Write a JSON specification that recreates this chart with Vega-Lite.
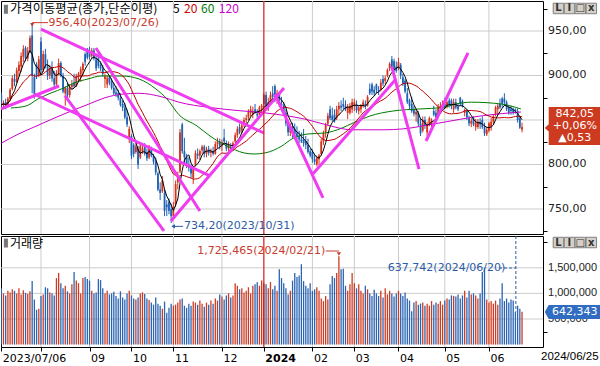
{
"$schema":"https://vega.github.io/schema/vega-lite/v6.json",
"padding":0,
"background":"#ffffff",
"spacing":2,
"bounds":"flush",
"config":{"view":{"stroke":"#000000","strokeWidth":1},"axis":{"domain":false,"labelFont":"DejaVu Sans","labelFontSize":11,"labelColor":"#222222","tickColor":"#000000"}},
"datasets":{
"ohlc":[
{"i":0,"o":878,"h":881,"l":864,"c":867,"v":1100000},{"i":1,"o":867,"h":872,"l":862,"c":869,"v":1000000},{"i":2,"o":870,"h":874,"l":862,"c":866,"v":960000},{"i":3,"o":866,"h":876,"l":864,"c":874,"v":1050000},{"i":4,"o":874,"h":886,"l":872,"c":884,"v":1020000},{"i":5,"o":885,"h":900,"l":883,"c":897,"v":1080000},{"i":6,"o":896,"h":902,"l":888,"c":893,"v":1050000},{"i":7,"o":893,"h":909,"l":891,"c":906,"v":1000000},{"i":8,"o":905,"h":916,"l":899,"c":912,"v":1100000},{"i":9,"o":910,"h":926,"l":904,"c":922,"v":980000},
{"i":10,"o":921,"h":934,"l":915,"c":930,"v":1060000},{"i":11,"o":931,"h":933,"l":916,"c":919,"v":1010000},{"i":12,"o":919,"h":932,"l":916,"c":928,"v":990000},{"i":13,"o":928,"h":945,"l":925,"c":942,"v":1040000},{"i":14,"o":945,"h":956.4,"l":880,"c":900,"v":1240000},{"i":15,"o":898,"h":902,"l":874,"c":879,"v":880000},{"i":16,"o":912,"h":915,"l":896,"c":899,"v":680000},{"i":17,"o":900,"h":922,"l":898,"c":918,"v":700000},{"i":18,"o":938,"h":943,"l":903,"c":906,"v":950000},{"i":19,"o":906,"h":928,"l":904,"c":924,"v":980000},
{"i":20,"o":924,"h":930,"l":908,"c":912,"v":1120000},{"i":21,"o":912,"h":918,"l":895,"c":900,"v":1100000},{"i":22,"o":900,"h":912,"l":896,"c":908,"v":1020000},{"i":23,"o":908,"h":916,"l":893,"c":897,"v":1000000},{"i":24,"o":897,"h":905,"l":885,"c":890,"v":960000},{"i":25,"o":890,"h":906,"l":888,"c":903,"v":1300000},{"i":26,"o":903,"h":919,"l":900,"c":914,"v":1400000},{"i":27,"o":914,"h":916,"l":898,"c":900,"v":1200000},{"i":28,"o":900,"h":903,"l":880,"c":882,"v":1100000},{"i":29,"o":880,"h":888,"l":866,"c":886,"v":1150000},
{"i":30,"o":886,"h":892,"l":874,"c":878,"v":1040000},{"i":31,"o":878,"h":890,"l":875,"c":887,"v":1000000},{"i":32,"o":887,"h":895,"l":884,"c":890,"v":1180000},{"i":33,"o":892,"h":902,"l":886,"c":888,"v":1420000},{"i":34,"o":888,"h":902,"l":887,"c":899,"v":1250000},{"i":35,"o":899,"h":904,"l":893,"c":902,"v":1200000},{"i":36,"o":901,"h":910,"l":893,"c":907,"v":1000000},{"i":37,"o":906,"h":915,"l":900,"c":913,"v":1300000},{"i":38,"o":924,"h":926,"l":911,"c":915,"v":1320000},{"i":39,"o":930,"h":931,"l":918,"c":920,"v":1280000},
{"i":40,"o":925,"h":932,"l":918,"c":921,"v":1250000},{"i":41,"o":922,"h":931,"l":919,"c":928,"v":1050000},{"i":42,"o":928,"h":931,"l":917,"c":919,"v":1000000},{"i":43,"o":918,"h":922,"l":905,"c":908,"v":1020000},{"i":44,"o":920,"h":922,"l":908,"c":911,"v":1280000},{"i":45,"o":912,"h":916,"l":905,"c":908,"v":1260000},{"i":46,"o":908,"h":912,"l":899,"c":902,"v":1100000},{"i":47,"o":896,"h":902,"l":886,"c":899,"v":1000000},{"i":48,"o":890,"h":900,"l":886,"c":897,"v":1050000},{"i":49,"o":898,"h":900,"l":889,"c":892,"v":980000},
{"i":50,"o":893,"h":897,"l":884,"c":886,"v":1000000},{"i":51,"o":886,"h":892,"l":878,"c":880,"v":1030000},{"i":52,"o":881,"h":888,"l":876,"c":879,"v":950000},{"i":53,"o":880,"h":884,"l":872,"c":875,"v":900000},{"i":54,"o":875,"h":880,"l":865,"c":867,"v":1040000},{"i":55,"o":868,"h":872,"l":860,"c":864,"v":920000},{"i":56,"o":864,"h":869,"l":851,"c":853,"v":880000},{"i":57,"o":853,"h":862,"l":842,"c":845,"v":1000000},{"i":58,"o":830,"h":843,"l":824,"c":840,"v":1050000},{"i":59,"o":832,"h":834,"l":806,"c":810,"v":960000},
{"i":60,"o":822,"h":824,"l":808,"c":812,"v":900000},{"i":61,"o":814,"h":825,"l":812,"c":820,"v":880000},{"i":62,"o":818,"h":821,"l":795,"c":800,"v":920000},{"i":63,"o":808,"h":825,"l":806,"c":821,"v":1000000},{"i":64,"o":815,"h":822,"l":812,"c":818,"v":1020000},{"i":65,"o":820,"h":824,"l":810,"c":812,"v":990000},{"i":66,"o":814,"h":818,"l":804,"c":807,"v":900000},{"i":67,"o":808,"h":822,"l":806,"c":818,"v":870000},{"i":68,"o":818,"h":820,"l":808,"c":810,"v":820000},{"i":69,"o":810,"h":812,"l":800,"c":803,"v":780000},
{"i":70,"o":803,"h":808,"l":788,"c":791,"v":920000},{"i":71,"o":790,"h":792,"l":770,"c":772,"v":800000},{"i":72,"o":772,"h":780,"l":760,"c":768,"v":760000},{"i":73,"o":770,"h":787,"l":768,"c":782,"v":700000},{"i":74,"o":768,"h":772,"l":742,"c":748,"v":840000},{"i":75,"o":755,"h":760,"l":742,"c":752,"v":620000},{"i":76,"o":758,"h":762,"l":744,"c":748,"v":720000},{"i":77,"o":750,"h":756,"l":734.2,"c":742,"v":800000},{"i":78,"o":742,"h":758,"l":740,"c":752,"v":760000},{"i":79,"o":755,"h":782,"l":752,"c":778,"v":780000},
{"i":80,"o":780,"h":792,"l":772,"c":786,"v":820000},{"i":81,"o":792,"h":840,"l":790,"c":836,"v":880000},{"i":82,"o":845,"h":847,"l":812,"c":815,"v":900000},{"i":83,"o":815,"h":830,"l":800,"c":808,"v":760000},{"i":84,"o":808,"h":812,"l":796,"c":799,"v":720000},{"i":85,"o":800,"h":808,"l":792,"c":796,"v":800000},{"i":86,"o":797,"h":800,"l":785,"c":790,"v":760000},{"i":87,"o":785,"h":798,"l":778,"c":795,"v":840000},{"i":88,"o":800,"h":816,"l":798,"c":813,"v":820000},{"i":89,"o":812,"h":818,"l":806,"c":810,"v":780000},
{"i":90,"o":810,"h":817,"l":805,"c":815,"v":860000},{"i":91,"o":816,"h":822,"l":812,"c":820,"v":800000},{"i":92,"o":820,"h":822,"l":808,"c":812,"v":740000},{"i":93,"o":812,"h":820,"l":808,"c":817,"v":820000},{"i":94,"o":817,"h":821,"l":810,"c":813,"v":780000},{"i":95,"o":813,"h":818,"l":808,"c":815,"v":860000},{"i":96,"o":815,"h":820,"l":810,"c":812,"v":800000},{"i":97,"o":812,"h":826,"l":811,"c":823,"v":900000},{"i":98,"o":823,"h":830,"l":818,"c":826,"v":860000},{"i":99,"o":826,"h":829,"l":817,"c":821,"v":980000},
{"i":100,"o":821,"h":828,"l":815,"c":825,"v":940000},{"i":101,"o":830,"h":840,"l":822,"c":826,"v":880000},{"i":102,"o":824,"h":827,"l":815,"c":818,"v":960000},{"i":103,"o":818,"h":826,"l":814,"c":822,"v":1000000},{"i":104,"o":820,"h":824,"l":813,"c":816,"v":920000},{"i":105,"o":817,"h":826,"l":815,"c":824,"v":960000},{"i":106,"o":826,"h":836,"l":824,"c":833,"v":1200000},{"i":107,"o":833,"h":843,"l":830,"c":840,"v":1150000},{"i":108,"o":842,"h":846,"l":834,"c":836,"v":1080000},{"i":109,"o":838,"h":848,"l":835,"c":844,"v":1100000},
{"i":110,"o":845,"h":853,"l":842,"c":850,"v":1020000},{"i":111,"o":850,"h":856,"l":845,"c":852,"v":1050000},{"i":112,"o":853,"h":862,"l":850,"c":859,"v":1120000},{"i":113,"o":858,"h":866,"l":854,"c":862,"v":1000000},{"i":114,"o":856,"h":865,"l":852,"c":860,"v":1150000},{"i":115,"o":862,"h":868,"l":857,"c":859,"v":1180000},{"i":116,"o":857,"h":862,"l":852,"c":855,"v":1220000},{"i":117,"o":856,"h":866,"l":854,"c":864,"v":1150000},{"i":118,"o":864,"h":868,"l":858,"c":866,"v":1250000},{"i":119,"o":868,"h":880,"l":862,"c":878,"v":1200000},
{"i":120,"o":878,"h":882,"l":862,"c":866,"v":1180000},{"i":121,"o":866,"h":875,"l":860,"c":870,"v":1100000},{"i":122,"o":870,"h":882,"l":868,"c":878,"v":1220000},{"i":123,"o":880,"h":888,"l":872,"c":876,"v":1080000},{"i":124,"o":888,"h":890,"l":870,"c":873,"v":1150000},{"i":125,"o":872,"h":884,"l":868,"c":880,"v":1050000},{"i":126,"o":880,"h":882,"l":865,"c":868,"v":1470000},{"i":127,"o":868,"h":876,"l":862,"c":866,"v":1300000},{"i":128,"o":866,"h":870,"l":855,"c":858,"v":1200000},{"i":129,"o":858,"h":862,"l":843,"c":846,"v":1100000},
{"i":130,"o":846,"h":850,"l":832,"c":836,"v":980000},{"i":131,"o":836,"h":846,"l":832,"c":842,"v":1050000},{"i":132,"o":843,"h":847,"l":830,"c":838,"v":1250000},{"i":133,"o":840,"h":846,"l":832,"c":834,"v":1400000},{"i":134,"o":835,"h":843,"l":828,"c":832,"v":1320000},{"i":135,"o":832,"h":838,"l":824,"c":828,"v":1350000},{"i":136,"o":828,"h":836,"l":824,"c":826,"v":1570000},{"i":137,"o":828,"h":840,"l":820,"c":824,"v":1240000},{"i":138,"o":826,"h":832,"l":817,"c":822,"v":1150000},{"i":139,"o":822,"h":829,"l":812,"c":814,"v":1100000},
{"i":140,"o":815,"h":818,"l":808,"c":810,"v":1200000},{"i":141,"o":814,"h":817,"l":802,"c":806,"v":1050000},{"i":142,"o":806,"h":812,"l":800,"c":803,"v":1080000},{"i":143,"o":800,"h":810,"l":798,"c":807,"v":1120000},{"i":144,"o":806,"h":812,"l":800,"c":810,"v":1050000},{"i":145,"o":812,"h":829,"l":810,"c":826,"v":900000},{"i":146,"o":826,"h":838,"l":822,"c":835,"v":850000},{"i":147,"o":836,"h":847,"l":830,"c":844,"v":950000},{"i":148,"o":846,"h":858,"l":843,"c":855,"v":880000},{"i":149,"o":862,"h":866,"l":850,"c":852,"v":1180000},
{"i":150,"o":855,"h":864,"l":848,"c":850,"v":1340000},{"i":151,"o":856,"h":862,"l":847,"c":849,"v":1300000},{"i":152,"o":852,"h":866,"l":850,"c":862,"v":1400000},{"i":153,"o":862,"h":870,"l":855,"c":866,"v":1725465},{"i":154,"o":866,"h":872,"l":860,"c":864,"v":1470000},{"i":155,"o":868,"h":875,"l":862,"c":865,"v":1480000},{"i":156,"o":866,"h":872,"l":860,"c":862,"v":1150000},{"i":157,"o":858,"h":868,"l":851,"c":865,"v":1050000},{"i":158,"o":858,"h":869,"l":856,"c":866,"v":1180000},{"i":159,"o":862,"h":874,"l":858,"c":870,"v":1400000},
{"i":160,"o":866,"h":874,"l":860,"c":870,"v":1200000},{"i":161,"o":868,"h":872,"l":858,"c":861,"v":1100000},{"i":162,"o":860,"h":866,"l":856,"c":864,"v":1180000},{"i":163,"o":862,"h":868,"l":858,"c":866,"v":1050000},{"i":164,"o":866,"h":873,"l":864,"c":870,"v":1000000},{"i":165,"o":868,"h":872,"l":862,"c":866,"v":1150000},{"i":166,"o":866,"h":878,"l":865,"c":876,"v":1080000},{"i":167,"o":885,"h":891,"l":878,"c":880,"v":1000000},{"i":168,"o":890,"h":892,"l":878,"c":882,"v":950000},{"i":169,"o":884,"h":888,"l":877,"c":880,"v":1070000},
{"i":170,"o":890,"h":891,"l":880,"c":884,"v":1000000},{"i":171,"o":884,"h":888,"l":878,"c":882,"v":950000},{"i":172,"o":884,"h":896,"l":882,"c":892,"v":1050000},{"i":173,"o":896,"h":900,"l":888,"c":891,"v":920000},{"i":174,"o":894,"h":900,"l":890,"c":897,"v":1100000},{"i":175,"o":900,"h":908,"l":898,"c":906,"v":980000},{"i":176,"o":908,"h":915,"l":905,"c":913,"v":1050000},{"i":177,"o":918,"h":922,"l":908,"c":910,"v":1000000},{"i":178,"o":916,"h":919,"l":904,"c":906,"v":940000},{"i":179,"o":910,"h":916,"l":903,"c":905,"v":1000000},
{"i":180,"o":908,"h":920,"l":906,"c":915,"v":1050000},{"i":181,"o":912,"h":914,"l":896,"c":900,"v":1000000},{"i":182,"o":898,"h":902,"l":888,"c":891,"v":950000},{"i":183,"o":894,"h":896,"l":880,"c":882,"v":1020000},{"i":184,"o":880,"h":886,"l":868,"c":870,"v":900000},{"i":185,"o":872,"h":874,"l":862,"c":866,"v":860000},{"i":186,"o":868,"h":876,"l":858,"c":860,"v":650000},{"i":187,"o":862,"h":866,"l":854,"c":857,"v":820000},{"i":188,"o":856,"h":862,"l":848,"c":859,"v":850000},{"i":189,"o":858,"h":860,"l":843,"c":846,"v":780000},
{"i":190,"o":846,"h":852,"l":832,"c":835,"v":800000},{"i":191,"o":838,"h":854,"l":836,"c":850,"v":820000},{"i":192,"o":850,"h":854,"l":840,"c":844,"v":760000},{"i":193,"o":836,"h":848,"l":832,"c":845,"v":800000},{"i":194,"o":845,"h":854,"l":843,"c":852,"v":760000},{"i":195,"o":844,"h":852,"l":842,"c":849,"v":850000},{"i":196,"o":860,"h":866,"l":854,"c":856,"v":780000},{"i":197,"o":858,"h":862,"l":850,"c":853,"v":820000},{"i":198,"o":854,"h":868,"l":852,"c":864,"v":800000},{"i":199,"o":864,"h":870,"l":860,"c":866,"v":850000},
{"i":200,"o":866,"h":872,"l":862,"c":868,"v":780000},{"i":201,"o":868,"h":875,"l":862,"c":865,"v":860000},{"i":202,"o":865,"h":872,"l":863,"c":870,"v":900000},{"i":203,"o":872,"h":875,"l":864,"c":867,"v":880000},{"i":204,"o":872,"h":874,"l":862,"c":866,"v":960000},{"i":205,"o":862,"h":874,"l":858,"c":870,"v":950000},{"i":206,"o":870,"h":874,"l":862,"c":864,"v":940000},{"i":207,"o":865,"h":868,"l":860,"c":862,"v":980000},{"i":208,"o":875,"h":876,"l":866,"c":868,"v":900000},{"i":209,"o":871,"h":873,"l":864,"c":866,"v":960000},
{"i":210,"o":858,"h":863,"l":854,"c":861,"v":1050000},{"i":211,"o":860,"h":862,"l":850,"c":853,"v":920000},{"i":212,"o":852,"h":855,"l":843,"c":846,"v":1050000},{"i":213,"o":846,"h":852,"l":842,"c":849,"v":980000},{"i":214,"o":852,"h":854,"l":843,"c":845,"v":1000000},{"i":215,"o":842,"h":851,"l":838,"c":847,"v":960000},{"i":216,"o":842,"h":851,"l":840,"c":848,"v":900000},{"i":217,"o":848,"h":852,"l":840,"c":845,"v":1000000},{"i":218,"o":850,"h":854,"l":840,"c":842,"v":1420000},{"i":219,"o":842,"h":847,"l":832,"c":835,"v":1500000},
{"i":220,"o":834,"h":842,"l":832,"c":839,"v":880000},{"i":221,"o":838,"h":848,"l":836,"c":846,"v":820000},{"i":222,"o":842,"h":852,"l":838,"c":848,"v":850000},{"i":223,"o":848,"h":856,"l":845,"c":854,"v":800000},{"i":224,"o":856,"h":866,"l":854,"c":864,"v":860000},{"i":225,"o":862,"h":868,"l":856,"c":866,"v":780000},{"i":226,"o":868,"h":874,"l":862,"c":864,"v":900000},{"i":227,"o":874,"h":876,"l":864,"c":868,"v":1200000},{"i":228,"o":874,"h":880,"l":866,"c":870,"v":850000},{"i":229,"o":870,"h":872,"l":860,"c":862,"v":900000},
{"i":230,"o":864,"h":866,"l":856,"c":858,"v":820000},{"i":231,"o":862,"h":866,"l":856,"c":860,"v":880000},{"i":232,"o":862,"h":864,"l":856,"c":858,"v":860000},{"i":233,"o":862,"h":863,"l":857,"c":860,"v":637742},{"i":234,"o":860,"h":863,"l":847,"c":850,"v":760000},{"i":235,"o":852,"h":854,"l":840,"c":841.52,"v":700000},{"i":236,"o":839,"h":847,"l":836,"c":842.05,"v":642343}
],
"ma":[
{"s":"60","i":4.4,"p":863.5},{"s":"60","i":11.2,"p":865.7},{"s":"60","i":16.6,"p":873.6},{"s":"60","i":22.5,"p":880.3},{"s":"60","i":28.4,"p":886},{"s":"60","i":33,"p":891.6},{"s":"60","i":39.3,"p":896.1},{"s":"60","i":45.2,"p":899.4},{"s":"60","i":54.7,"p":899.4},{"s":"60","i":62.4,"p":896.1},{"s":"60","i":70.1,"p":884.8},{"s":"60","i":75.1,"p":873.6},{"s":"60","i":80.5,"p":856},{"s":"60","i":88.7,"p":843.3},{"s":"60","i":94.6,"p":832},{"s":"60","i":102.3,"p":820.8},{"s":"60","i":110,"p":813},{"s":"60","i":114.5,"p":811.8},{"s":"60","i":119.5,"p":813},{"s":"60","i":127.2,"p":820.8},{"s":"60","i":131.7,"p":828.7},{"s":"60","i":139,"p":834.3},{"s":"60","i":146.7,"p":835.4},{"s":"60","i":154.4,"p":841},{"s":"60","i":159.4,"p":846.6},{"s":"60","i":167.1,"p":854.5},{"s":"60","i":177.5,"p":860.1},{"s":"60","i":189.7,"p":862.4},{"s":"60","i":200.1,"p":864},{"s":"60","i":206,"p":868},{"s":"60","i":213,"p":870},{"s":"60","i":226.4,"p":868},{"s":"60","i":235.5,"p":862.4},
{"s":"120","i":0,"p":824},{"s":"120","i":7.6,"p":834},{"s":"120","i":14.8,"p":842},{"s":"120","i":23.9,"p":852},{"s":"120","i":31.6,"p":860},{"s":"120","i":39.8,"p":868},{"s":"120","i":47,"p":875},{"s":"120","i":54.7,"p":879},{"s":"120","i":62.4,"p":880},{"s":"120","i":72.8,"p":876},{"s":"120","i":80.5,"p":870},{"s":"120","i":94.6,"p":864},{"s":"120","i":110,"p":860},{"s":"120","i":119.5,"p":858},{"s":"120","i":128.6,"p":855},{"s":"120","i":137.6,"p":851},{"s":"120","i":146.7,"p":845},{"s":"120","i":158.9,"p":839},{"s":"120","i":173.4,"p":839},{"s":"120","i":182,"p":840},{"s":"120","i":197,"p":846},{"s":"120","i":218.7,"p":855},{"s":"120","i":235.5,"p":859}
],
"trend":[
{"i1":18,"p1":952.2,"i2":119,"p2":835.4},{"i1":-0.12,"p1":862.4,"i2":26.2,"p2":888.2},{"i1":14.8,"p1":879.2,"i2":94.6,"p2":787.1},{"i1":28.9,"p1":877,"i2":73.7,"p2":725.3},{"i1":42.9,"p1":930.9,"i2":90,"p2":747.8},{"i1":76.9,"p1":736.5,"i2":128.1,"p2":886},{"i1":124,"p1":879.2,"i2":145.8,"p2":762.4},{"i1":141.2,"p1":789.3,"i2":178.9,"p2":896.1},{"i1":177,"p1":909.6,"i2":189.3,"p2":794.9},{"i1":192.5,"p1":826.4,"i2":211.5,"p2":925.3}
],
"months":[{"i":18},{"i":40},{"i":59},{"i":78},{"i":100},{"i":119},{"i":141},{"i":160},{"i":180},{"i":201},{"i":221}],
"plevels":[{"p":750,"t":"750,00"},{"p":800,"t":"800,00"},{"p":850,"t":"850,00"},{"p":900,"t":"900,00"},{"p":950,"t":"950,00"}],
"vlevels":[{"v":500000,"t":"500,000"},{"v":1000000,"t":"1,000,000"},{"v":1500000,"t":"1,500,000"}]
},
"vconcat":[
{
"width":542,"height":233,
"layer":[
{"data":{"name":"months"},"mark":{"type":"rule","strokeWidth":1,"color":"#cccccc"},
 "encoding":{"x":{"field":"i","type":"quantitative","scale":{"domain":[-0.122,245.5],"nice":false,"zero":false},"axis":{"values":[18,40,59,78,100,119,141,160,180,201,221],"labels":false,"ticks":false,"grid":false,"domain":false,"title":null}}}},
{"data":{"name":"plevels"},"mark":{"type":"rule","strokeWidth":1,"color":"#cccccc"},
 "encoding":{"y":{"field":"p","type":"quantitative","scale":{"domain":[721.9,983.7],"nice":false,"zero":false},"axis":{"orient":"right","values":[725,737.5,750,762.5,775,787.5,800,812.5,825,837.5,850,862.5,875,887.5,900,912.5,925,937.5,950,962.5,975],"labels":false,"tickSize":4,"grid":false,"title":null,"domain":false}}}},
{"data":{"name":"ohlc"},"mark":{"type":"rule","strokeWidth":1,"clip":true},
 "encoding":{
  "x":{"field":"i","type":"quantitative"},
  "y":{"field":"l","type":"quantitative"},
  "y2":{"field":"h"},
  "color":{"condition":{"test":"datum.c>=datum.o","value":"#d4321c"},"value":"#1f62b4"}}},
{"data":{"name":"ohlc"},"mark":{"type":"rule","strokeWidth":1.8,"clip":true},
 "encoding":{
  "x":{"field":"i","type":"quantitative"},
  "y":{"field":"o","type":"quantitative"},
  "y2":{"field":"c"},
  "color":{"condition":{"test":"datum.c>=datum.o","value":"#d4321c"},"value":"#1f62b4"}}},
{"data":{"name":"ma"},"mark":{"type":"line","strokeWidth":1,"interpolate":"monotone","clip":true},
 "encoding":{
  "x":{"field":"i","type":"quantitative"},
  "y":{"field":"p","type":"quantitative"},
  "color":{"field":"s","type":"nominal","scale":{"domain":["5","20","60","120"],"range":["#000000","#c80000","#007a00","#cc00cc"]},"legend":null},
  "detail":{"field":"s"}}},
{"data":{"name":"ohlc"},"transform":[{"window":[{"op":"mean","field":"c","as":"ma20"}],"sort":[{"field":"i","order":"ascending"}],"frame":[-19,0]}],
 "mark":{"type":"line","strokeWidth":1,"color":"#c00000","clip":true},
 "encoding":{"x":{"field":"i","type":"quantitative"},"y":{"field":"ma20","type":"quantitative"}}},
{"data":{"name":"ohlc"},"transform":[{"window":[{"op":"mean","field":"c","as":"ma5"}],"sort":[{"field":"i","order":"ascending"}],"frame":[-4,0]}],
 "mark":{"type":"line","strokeWidth":1,"color":"#000000","clip":true},
 "encoding":{"x":{"field":"i","type":"quantitative"},"y":{"field":"ma5","type":"quantitative"}}},
{"data":{"name":"trend"},"mark":{"type":"rule","strokeWidth":3,"color":"#f03cf0","clip":true},
 "encoding":{"x":{"field":"i1","type":"quantitative"},"x2":{"field":"i2"},"y":{"field":"p1","type":"quantitative"},"y2":{"field":"p2"}}},
{"data":{"values":[{"i":119}]},"mark":{"type":"rule","strokeWidth":1,"color":"#e00000"},
 "encoding":{"x":{"field":"i","type":"quantitative"}}},
{"data":{"values":[{"i1":14,"i2":21.2,"p":959.4}]},"mark":{"type":"rule","strokeWidth":1,"color":"#c83c2d"},
 "encoding":{"x":{"field":"i1","type":"quantitative"},"x2":{"field":"i2"},"y":{"field":"p","type":"quantitative"}}},
{"data":{"values":[{"i":14,"p":956.9}]},"mark":{"type":"point","shape":"triangle-down","size":18,"filled":true,"color":"#c83c2d","opacity":1},
 "encoding":{"x":{"field":"i","type":"quantitative"},"y":{"field":"p","type":"quantitative"}}},
{"data":{"values":[{"i":21.4,"p":959.2,"t":"956,40(2023/07/26)"}]},"mark":{"type":"text","align":"left","baseline":"middle","font":"DejaVu Sans","fontSize":11,"color":"#c83c2d"},
 "encoding":{"x":{"field":"i","type":"quantitative"},"y":{"field":"p","type":"quantitative"},"text":{"field":"t"}}},
{"data":{"values":[{"i1":77.4,"i2":82.4,"p":730.5}]},"mark":{"type":"rule","strokeWidth":1,"color":"#2b5ca8"},
 "encoding":{"x":{"field":"i1","type":"quantitative"},"x2":{"field":"i2"},"y":{"field":"p","type":"quantitative"}}},
{"data":{"values":[{"i":77.9,"p":730.5}]},"mark":{"type":"point","shape":"triangle-left","size":18,"filled":true,"color":"#2b5ca8","opacity":1},
 "encoding":{"x":{"field":"i","type":"quantitative"},"y":{"field":"p","type":"quantitative"}}},
{"data":{"values":[{"i":82.8,"p":730.5,"t":"734,20(2023/10/31)"}]},"mark":{"type":"text","align":"left","baseline":"middle","font":"DejaVu Sans","fontSize":11,"color":"#2b5ca8"},
 "encoding":{"x":{"field":"i","type":"quantitative"},"y":{"field":"p","type":"quantitative"},"text":{"field":"t"}}},
{"data":{"values":[{"i":2.1,"p":974.4}]},"mark":{"type":"point","shape":"M-0.45,-1L0.45,-1L0.45,1L-0.45,1Z","size":81,"filled":true,"color":"#777777","opacity":1},
 "encoding":{"x":{"field":"i","type":"quantitative"},"y":{"field":"p","type":"quantitative"}}},
{"data":{"values":[{"i":3.96,"p":974.4,"t":"가격이동평균(종가,단순이평)"}]},"mark":{"type":"text","align":"left","baseline":"middle","font":"Noto Sans CJK KR","fontSize":12.3,"color":"#000000"},
 "encoding":{"x":{"field":"i","type":"quantitative"},"y":{"field":"p","type":"quantitative"},"text":{"field":"t"}}},
{"data":{"values":[{"i":77.8,"p":974.4,"s":"5"},{"i":82.8,"p":974.4,"s":"20"},{"i":90.5,"p":974.4,"s":"60"},{"i":98.6,"p":974.4,"s":"120"}]},"mark":{"type":"text","align":"left","baseline":"middle","font":"Noto Sans CJK KR","fontSize":12},
 "encoding":{"x":{"field":"i","type":"quantitative"},"y":{"field":"p","type":"quantitative"},"text":{"field":"s"},"color":{"field":"s","type":"nominal","legend":null}}},
{"data":{"name":"plevels"},"transform":[{"filter":"datum.p != 850"}],"mark":{"type":"text","align":"left","baseline":"middle","font":"DejaVu Sans","fontSize":11,"color":"#222222"},
 "encoding":{"x":{"datum":247.8,"type":"quantitative"},"y":{"field":"p","type":"quantitative"},"text":{"field":"t"}}},
{"data":{"values":[{"i":259,"p":843.3}]},"mark":{"type":"point","shape":"M-0.86,-0.68L1,-0.68L1,0.68L-0.86,0.68L-0.86,0.2L-1,0.07L-0.86,-0.06Z","size":3136,"filled":true,"color":"#cc3a1f","opacity":1},
 "encoding":{"x":{"field":"i","type":"quantitative"},"y":{"field":"p","type":"quantitative"}}},
{"data":{"values":[{"i":259,"p":856.7,"t":"842,05"},{"i":259,"p":843.3,"t":"+0,06%"},{"i":259,"p":829.8,"t":"▲0,53"}]},"mark":{"type":"text","align":"center","baseline":"middle","dx":2,"font":"DejaVu Sans","fontSize":11,"color":"#ffffff"},
 "encoding":{"x":{"field":"i","type":"quantitative"},"y":{"field":"p","type":"quantitative"},"text":{"field":"t"}}},
{"data":{"values":[{"i":252.5,"p":975.3},{"i":257.5,"p":975.3},{"i":262.4,"p":975.3},{"i":267.4,"p":975.3}]},"mark":{"type":"point","shape":"square","size":110,"filled":true,"color":"#d4d0c8","stroke":"#808080","strokeWidth":1,"opacity":1},
 "encoding":{"x":{"field":"i","type":"quantitative"},"y":{"field":"p","type":"quantitative"}}},
{"data":{"values":[{"i":252.5,"p":975.3,"t":"L"},{"i":257.5,"p":975.3,"t":"I"},{"i":262.4,"p":975.3,"t":"□"},{"i":267.4,"p":975.3,"t":"x"}]},"mark":{"type":"text","align":"center","baseline":"middle","font":"DejaVu Sans","fontSize":10,"fontWeight":"bold","color":"#333333"},
 "encoding":{"x":{"field":"i","type":"quantitative"},"y":{"field":"p","type":"quantitative"},"text":{"field":"t"}}}
]
},
{
"width":542,"height":111,
"layer":[
{"data":{"name":"months"},"mark":{"type":"rule","strokeWidth":1,"color":"#cccccc"},
 "encoding":{"x":{"field":"i","type":"quantitative","scale":{"domain":[-0.122,245.5],"nice":false,"zero":false},"axis":{"orient":"bottom","values":[0,18,40,59,78,100,119,141,160,180,201,221],"labelExpr":"datum.value==0?'2023/07/06':datum.value==40?'09':datum.value==59?'10':datum.value==78?'11':datum.value==100?'12':datum.value==119?'2024':datum.value==141?'02':datum.value==160?'03':datum.value==180?'04':datum.value==201?'05':datum.value==221?'06':''","labelAlign":"left","labelBaseline":"top","labelPadding":1,"labelOffset":1,"tickSize":4,"grid":false,"labelOverlap":false,"labelFlush":false,"labelBound":false,"labelColor":"#000000","labelFontWeight":{"condition":{"test":"datum.value==119","value":"bold"},"value":"normal"},"domain":false,"title":null}}}},
{"data":{"name":"vlevels"},"mark":{"type":"rule","strokeWidth":1,"color":"#cccccc"},
 "encoding":{"y":{"field":"v","type":"quantitative","scale":{"domain":[-46875,2121094],"nice":false,"zero":false},"axis":{"orient":"right","values":[250000,500000,750000,1000000,1250000,1500000,1750000,2000000],"labels":false,"tickSize":4,"grid":false,"title":null,"domain":false}}}},
{"data":{"name":"ohlc"},"mark":{"type":"rule","strokeWidth":1.3,"clip":true},
 "encoding":{
  "x":{"field":"i","type":"quantitative"},
  "y":{"field":"v","type":"quantitative"},
  "y2":{"datum":0},
  "color":{"condition":{"test":"datum.c>=datum.o","value":"#cf3b22"},"value":"#2a64b2"}}},
{"data":{"values":[{"i":119}]},"mark":{"type":"rule","strokeWidth":1,"color":"#e00000"},
 "encoding":{"x":{"field":"i","type":"quantitative"}}},
{"data":{"values":[{"i1":147,"i2":153,"v":1828000}]},"mark":{"type":"rule","strokeWidth":1,"color":"#c83c2d"},
 "encoding":{"x":{"field":"i1","type":"quantitative"},"x2":{"field":"i2"},"y":{"field":"v","type":"quantitative"}}},
{"data":{"values":[{"i":153,"v":1770000}]},"mark":{"type":"point","shape":"triangle-down","size":18,"filled":true,"color":"#c83c2d","opacity":1},
 "encoding":{"x":{"field":"i","type":"quantitative"},"y":{"field":"v","type":"quantitative"}}},
{"data":{"values":[{"i":146.8,"v":1828000,"t":"1,725,465(2024/02/21)"}]},"mark":{"type":"text","align":"right","baseline":"middle","font":"DejaVu Sans","fontSize":11,"color":"#c83c2d"},
 "encoding":{"x":{"field":"i","type":"quantitative"},"y":{"field":"v","type":"quantitative"},"text":{"field":"t"}}},
{"data":{"values":[{"i1":225.6,"i2":233.2,"v":1496000}]},"mark":{"type":"rule","strokeWidth":1,"strokeDash":[3,2],"color":"#2b5ca8"},
 "encoding":{"x":{"field":"i1","type":"quantitative"},"x2":{"field":"i2"},"y":{"field":"v","type":"quantitative"}}},
{"data":{"values":[{"i":233.2,"v1":2121094,"v2":640000}]},"mark":{"type":"rule","strokeWidth":1,"strokeDash":[3,2],"color":"#2b5ca8"},
 "encoding":{"x":{"field":"i","type":"quantitative"},"y":{"field":"v1","type":"quantitative"},"y2":{"field":"v2"}}},
{"data":{"values":[{"i":175.2,"v":1496000,"t":"637,742(2024/06/20)"}]},"mark":{"type":"text","align":"left","baseline":"middle","font":"DejaVu Sans","fontSize":11,"color":"#2b5ca8"},
 "encoding":{"x":{"field":"i","type":"quantitative"},"y":{"field":"v","type":"quantitative"},"text":{"field":"t"}}},
{"data":{"values":[{"i":2.1,"v":1984000}]},"mark":{"type":"point","shape":"M-0.45,-1L0.45,-1L0.45,1L-0.45,1Z","size":81,"filled":true,"color":"#777777","opacity":1},
 "encoding":{"x":{"field":"i","type":"quantitative"},"y":{"field":"v","type":"quantitative"}}},
{"data":{"values":[{"i":3.96,"v":1965000,"t":"거래량"}]},"mark":{"type":"text","align":"left","baseline":"middle","font":"Noto Sans CJK KR","fontSize":12,"color":"#000000"},
 "encoding":{"x":{"field":"i","type":"quantitative"},"y":{"field":"v","type":"quantitative"},"text":{"field":"t"}}},
{"data":{"name":"vlevels"},"mark":{"type":"text","align":"left","baseline":"middle","font":"Liberation Sans","fontSize":11,"color":"#222222"},
 "encoding":{"x":{"datum":247.8,"type":"quantitative"},"y":{"field":"v","type":"quantitative"},"text":{"field":"t"}}},
{"data":{"values":[{"i":259,"v":637000}]},"mark":{"type":"point","shape":"M-0.86,-0.25L1,-0.25L1,0.25L-0.86,0.25L-1,0Z","size":3136,"filled":true,"color":"#2f6cc2","opacity":1},
 "encoding":{"x":{"field":"i","type":"quantitative"},"y":{"field":"v","type":"quantitative"}}},
{"data":{"values":[{"i":259,"v":637000,"t":"642,343"}]},"mark":{"type":"text","align":"center","baseline":"middle","dx":2,"font":"DejaVu Sans","fontSize":11,"color":"#ffffff"},
 "encoding":{"x":{"field":"i","type":"quantitative"},"y":{"field":"v","type":"quantitative"},"text":{"field":"t"}}},
{"data":{"values":[{"i":244.6,"v":-242000,"t":"2024/06/25"}]},"mark":{"type":"text","align":"left","baseline":"middle","font":"Liberation Sans","fontSize":11.5,"color":"#000000"},
 "encoding":{"x":{"field":"i","type":"quantitative"},"y":{"field":"v","type":"quantitative"},"text":{"field":"t"}}},
{"data":{"values":[{"i":252.5,"v":1994000},{"i":257.5,"v":1994000},{"i":262.4,"v":1994000},{"i":267.4,"v":1994000}]},"mark":{"type":"point","shape":"square","size":110,"filled":true,"color":"#d4d0c8","stroke":"#808080","strokeWidth":1,"opacity":1},
 "encoding":{"x":{"field":"i","type":"quantitative"},"y":{"field":"v","type":"quantitative"}}},
{"data":{"values":[{"i":252.5,"v":1994000,"t":"L"},{"i":257.5,"v":1994000,"t":"I"},{"i":262.4,"v":1994000,"t":"□"},{"i":267.4,"v":1994000,"t":"x"}]},"mark":{"type":"text","align":"center","baseline":"middle","font":"DejaVu Sans","fontSize":10,"fontWeight":"bold","color":"#333333"},
 "encoding":{"x":{"field":"i","type":"quantitative"},"y":{"field":"v","type":"quantitative"},"text":{"field":"t"}}}
]
}
]
}
